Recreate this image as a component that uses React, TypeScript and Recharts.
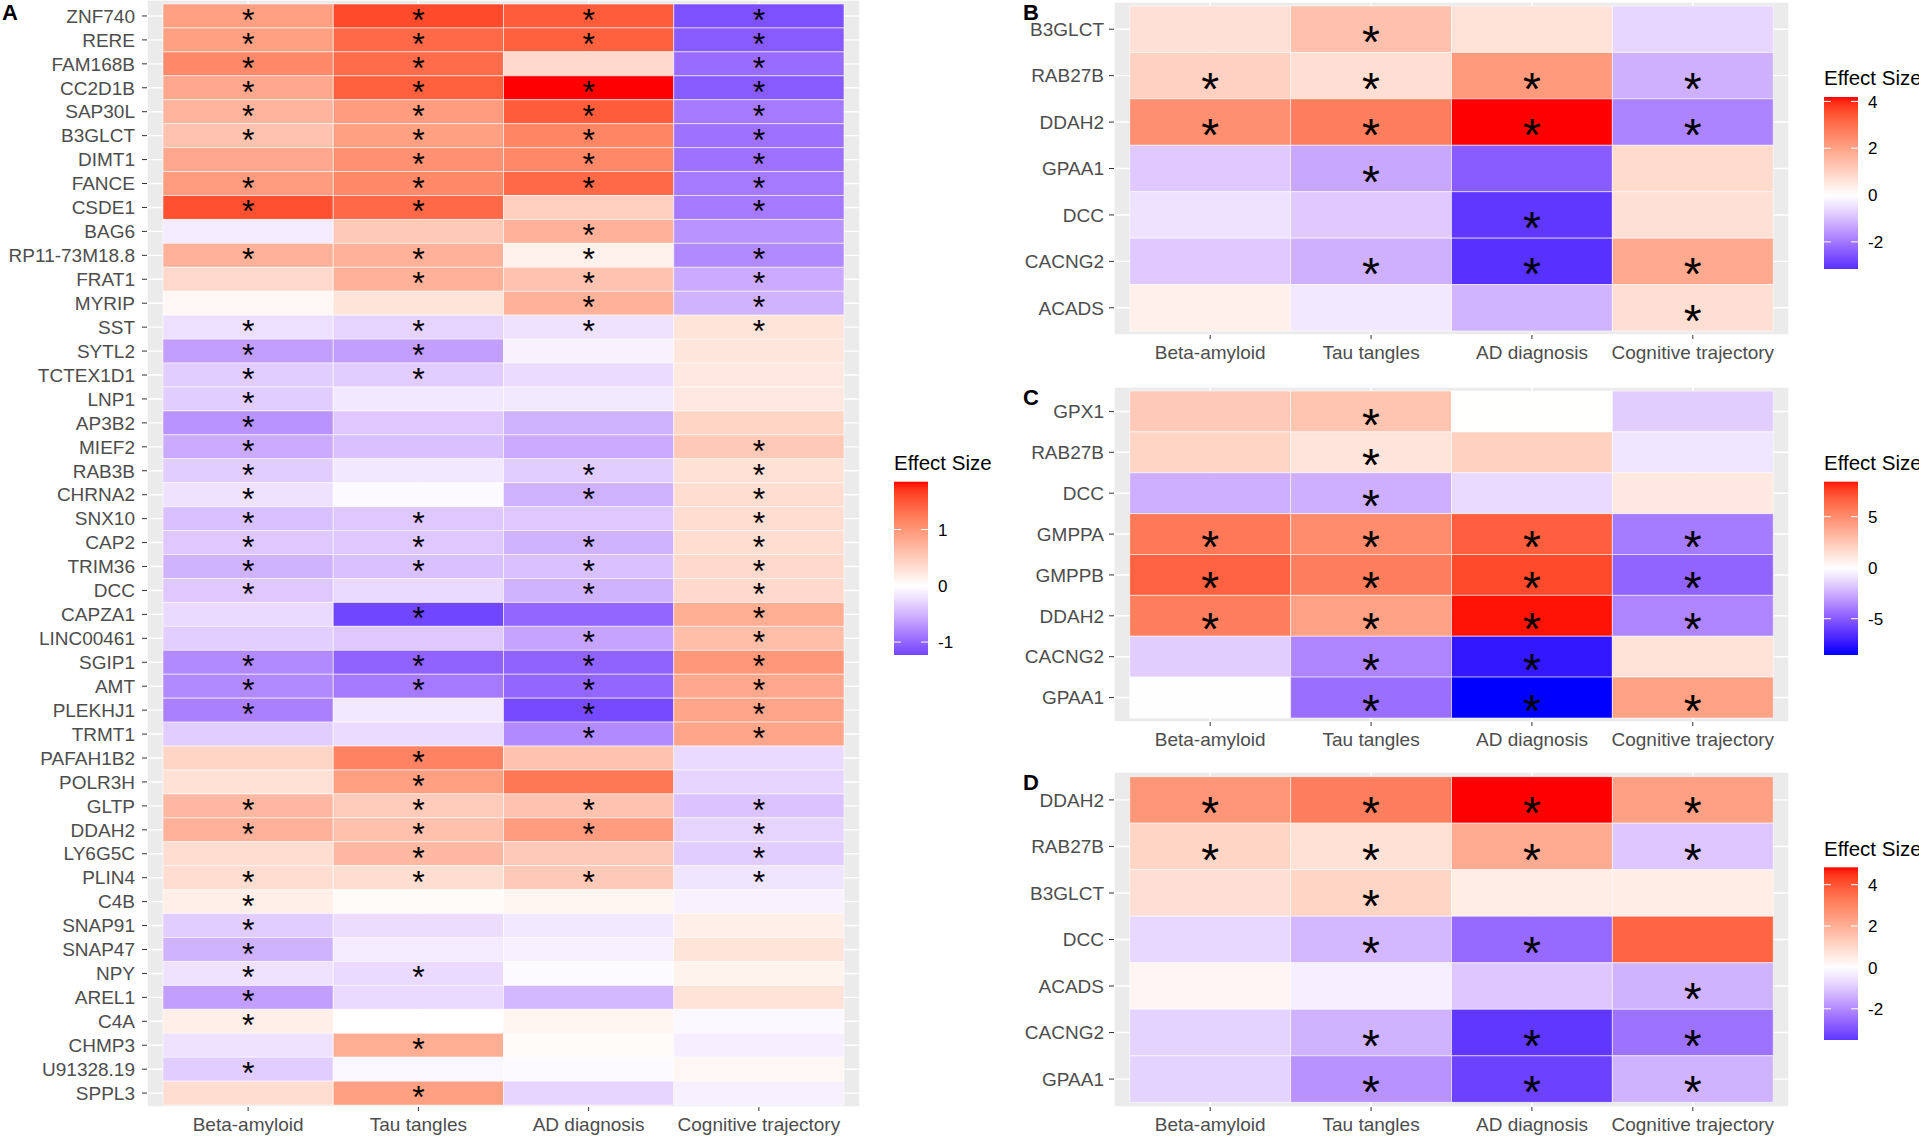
import React from "react";
import { CartesianGrid, ReferenceArea, Scatter, ScatterChart, XAxis, YAxis } from "recharts";

const TRAITS = ["Beta-amyloid", "Tau tangles", "AD diagnosis", "Cognitive trajectory"];

// Panel A
const A_GENES = [
  "ZNF740", "RERE", "FAM168B", "CC2D1B", "SAP30L", "B3GLCT", "DIMT1", "FANCE", "CSDE1", "BAG6",
  "RP11-73M18.8 ", "FRAT1", "MYRIP", "SST", "SYTL2", "TCTEX1D1", "LNP1", "AP3B2", "MIEF2", "RAB3B",
  "CHRNA2", "SNX10", "CAP2", "TRIM36", "DCC", "CAPZA1", "LINC00461", "SGIP1", "AMT", "PLEKHJ1",
  "TRMT1", "PAFAH1B2", "POLR3H", "GLTP", "DDAH2", "LY6G5C", "PLIN4", "C4B", "SNAP91", "SNAP47",
  "NPY", "AREL1", "C4A", "CHMP3", "U91328.19", "SPPL3",
];
const A_BETA = [
  0.91, 0.91, 1.11, 0.83, 0.71, 0.58, 0.83, 0.94, 1.55, -0.15,
  0.74, 0.37, 0.08, -0.23, -0.64, -0.35, -0.35, -0.71, -0.56, -0.35,
  -0.21, -0.43, -0.38, -0.51, -0.38, -0.26, -0.34, -0.77, -0.77, -0.83,
  -0.35, 0.41, 0.29, 0.67, 0.74, 0.33, 0.33, 0.16, -0.35, -0.51,
  -0.21, -0.64, 0.16, -0.21, -0.35, 0.33,
];
const A_TAU = [
  1.59, 1.38, 1.35, 1.44, 0.94, 0.91, 1.05, 1.11, 1.38, 0.52,
  0.74, 0.74, 0.26, -0.3, -0.64, -0.35, -0.17, -0.38, -0.43, -0.17,
  -0.03, -0.38, -0.38, -0.43, -0.26, -1.23, -0.38, -1.02, -0.87, -0.17,
  -0.25, 1.17, 0.91, 0.5, 0.6, 0.67, 0.32, 0.04, -0.24, -0.15,
  -0.26, -0.26, 0.0, 0.78, -0.06, 0.91,
];
const A_AD = [
  1.47, 1.44, 0.37, 1.85, 1.47, 1.15, 1.12, 1.38, 0.45, 0.74,
  0.14, 0.58, 0.74, -0.21, -0.1, -0.25, -0.16, -0.52, -0.56, -0.35,
  -0.52, -0.38, -0.51, -0.43, -0.51, -1.0, -0.61, -1.02, -1.0, -1.2,
  -0.77, 0.58, 1.26, 0.58, 0.94, 0.52, 0.52, 0.1, -0.17, -0.11,
  -0.03, -0.48, 0.1, 0.04, -0.03, -0.3,
];
const A_COG = [
  -1.15, -1.08, -0.96, -1.08, -0.87, -0.92, -0.92, -0.87, -0.87, -0.71,
  -0.77, -0.56, -0.51, 0.26, 0.24, 0.22, 0.22, 0.41, 0.52, 0.29,
  0.33, 0.33, 0.33, 0.37, 0.37, 0.78, 0.63, 0.99, 0.83, 0.86,
  0.86, -0.26, -0.3, -0.41, -0.3, -0.35, -0.19, -0.1, 0.16, 0.26,
  0.12, 0.28, -0.05, -0.12, 0.08, -0.11,
];
const A_SIG = [
  "1111", "1111", "1101", "1111", "1111", "1111", "0111", "1111", "1101", "0010",
  "1111", "0111", "0011", "1111", "1100", "1100", "1000", "1000", "1001", "1011",
  "1011", "1101", "1111", "1111", "1011", "0101", "0011", "1111", "1111", "1011",
  "0011", "0100", "0100", "1111", "1111", "0101", "1111", "1000", "1000", "1000",
  "1100", "1000", "1000", "0100", "1000", "0100",
];
const A_TICKS = [-1, 0, 1];

// Panel B
const B_GENES = ["B3GLCT", "RAB27B", "DDAH2", "GPAA1", "DCC", "CACNG2", "ACADS"];
const B_BETA = [0.67, 1.0, 2.39, -0.84, -0.47, -0.84, 0.32];
const B_TAU = [1.35, 0.71, 2.73, -1.33, -0.84, -1.2, -0.38];
const B_AD = [0.63, 2.17, 4.19, -2.43, -3.05, -3.16, -1.15];
const B_COG = [-0.66, -1.2, -1.82, 0.8, 0.67, 1.87, 0.71];
const B_SIG = ["0100", "1111", "1111", "0100", "0010", "0111", "0001"];
const B_TICKS = [-2, 0, 2, 4];

// Panel C
const C_GENES = ["GPX1", "RAB27B", "DCC", "GMPPA", "GMPPB", "DDAH2", "CACNG2", "GPAA1"];
const C_BETA = [2.4, 1.9, -2.5, 5.8, 6.6, 5.6, -1.6, -0.05];
const C_TAU = [2.6, 1.2, -2.5, 5.0, 5.6, 4.15, -3.7, -4.4];
const C_AD = [0.02, 2.05, -1.2, 6.7, 7.35, 8.43, -7.45, -8.56];
const C_COG = [-1.6, -0.85, 1.0, -4.0, -4.7, -3.7, 1.3, 4.15];
const C_SIG = ["0100", "0100", "0100", "1111", "1111", "1111", "0110", "0111"];
const C_TICKS = [-5, 0, 5];

// Panel D
const D_GENES = ["DDAH2", "RAB27B", "B3GLCT", "DCC", "ACADS", "CACNG2", "GPAA1"];
const D_BETA = [2.6, 1.07, 0.82, -0.73, 0.22, -0.83, -0.8];
const D_TAU = [3.15, 0.77, 1.07, -1.27, -0.32, -1.34, -1.88];
const D_AD = [4.84, 2.1, 0.47, -2.56, -1.0, -3.51, -3.3];
const D_COG = [2.37, -1.0, 0.47, 3.7, -1.34, -2.42, -1.34];
const D_SIG = ["1111", "1111", "0100", "0110", "0001", "0111", "0111"];
const D_TICKS = [-2, 0, 2, 4];

const FONT = '"Liberation Sans", Arial, Helvetica, sans-serif';
const AXIS_TEXT = "#4d4d4d";

// --- colour: blue / white / red diverging scale, interpolated in Lab
const toLin = (c: number) => {
  const s = c / 255;
  return s <= 0.04045 ? s / 12.92 : Math.pow((s + 0.055) / 1.055, 2.4);
};
const fromLin = (v: number) => {
  const c = Math.max(0, Math.min(1, v));
  const s = c <= 0.0031308 ? 12.92 * c : 1.055 * Math.pow(c, 1 / 2.4) - 0.055;
  return Math.round(Math.max(0, Math.min(1, s)) * 255);
};
const WX = 0.95047, WZ = 1.08883;
function rgbToLab([r, g, b]: number[]) {
  const R = toLin(r), G = toLin(g), B = toLin(b);
  const X = (0.4124 * R + 0.3576 * G + 0.1805 * B) / WX;
  const Y = 0.2126 * R + 0.7152 * G + 0.0722 * B;
  const Z = (0.0193 * R + 0.1192 * G + 0.9505 * B) / WZ;
  const f = (t: number) => (t > 0.008856 ? Math.cbrt(t) : 7.787 * t + 16 / 116);
  const fx = f(X), fy = f(Y), fz = f(Z);
  return [116 * fy - 16, 500 * (fx - fy), 200 * (fy - fz)];
}
function labToHex([L, a, b]: number[]) {
  const fy = (L + 16) / 116;
  const fx = fy + a / 500;
  const fz = fy - b / 200;
  const inv = (t: number) => (t * t * t > 0.008856 ? t * t * t : (t - 16 / 116) / 7.787);
  const X = inv(fx) * WX, Y = inv(fy), Z = inv(fz) * WZ;
  const R = 3.2406 * X - 1.5372 * Y - 0.4986 * Z;
  const G = -0.9689 * X + 1.8758 * Y + 0.0415 * Z;
  const B = 0.0557 * X - 0.204 * Y + 1.057 * Z;
  const h = (n: number) => n.toString(16).padStart(2, "0");
  return "#" + h(fromLin(R)) + h(fromLin(G)) + h(fromLin(B));
}
const LAB_LOW = rgbToLab([0, 0, 255]);
const LAB_MID = rgbToLab([255, 255, 255]);
const LAB_HIGH = rgbToLab([255, 0, 0]);
function fillFor(v: number, maxAbs: number) {
  const t = Math.max(-1, Math.min(1, v / maxAbs));
  const end = t >= 0 ? LAB_HIGH : LAB_LOW;
  let k = Math.abs(t);
  // the violet side of the reference runs a little deeper than plain Lab
  if (t < 0) k = k + 0.9 * k * k * (1 - k);
  return labToHex(LAB_MID.map((m, i) => m + (end[i] - m) * k));
}

type PanelProps = {
  genes: string[];
  cols: number[][];
  sig: string[];
  left: number;
  top: number;
  width: number;
  height: number;
  yAxisWidth: number;
  xAxisHeight: number;
  xPad: number;
  yPad: [number, number];
  starSize: number;
  starDy: number;
  starRise: number;
  yTickMargin: number;
};

function Heatmap(p: PanelProps) {
  const all = p.cols.flat();
  const maxAbs = Math.max(...all.map(Math.abs));
  const cells = p.genes.flatMap((g, r) =>
    TRAITS.map((t, c) => ({ x: c, y: r, v: p.cols[c][r], star: p.sig[r][c] === "1" }))
  );
  const stars = cells.filter((c) => c.star);
  return (
    <div style={{ position: "absolute", left: p.left, top: p.top }}>
      <ScatterChart width={p.width} height={p.height} margin={{ top: 0, right: 2, bottom: 0, left: 0 }}>
        <CartesianGrid fill="#ebebeb" fillOpacity={1} stroke="#ffffff" strokeWidth={1.4} />
        <XAxis
          type="number"
          dataKey="x"
          domain={[-0.5 - p.xPad, 3.5 + p.xPad]}
          allowDataOverflow
          ticks={[0, 1, 2, 3]}
          interval={0}
          tickFormatter={(i: number) => TRAITS[i]}
          height={p.xAxisHeight}
          axisLine={false}
          tickLine={{ stroke: "#333333" }}
          tickSize={4}
          tickMargin={6.5}
          tick={{ fill: AXIS_TEXT, fontSize: 19 }}
        />
        <YAxis
          type="number"
          dataKey="y"
          reversed
          domain={[-0.5 - p.yPad[0], p.genes.length - 0.5 + p.yPad[1]]}
          allowDataOverflow
          ticks={p.genes.map((_, i) => i)}
          interval={0}
          tickFormatter={(i: number) => p.genes[i]}
          width={p.yAxisWidth}
          axisLine={false}
          tickLine={{ stroke: "#333333" }}
          tickSize={5}
          tickMargin={p.yTickMargin}
          tick={{ fill: AXIS_TEXT, fontSize: 19 }}
        />
        {cells.map((c) => (
          <ReferenceArea
            key={`${c.x}-${c.y}`}
            x1={c.x - 0.5}
            x2={c.x + 0.5}
            y1={c.y - 0.5}
            y2={c.y + 0.5}
            fill={fillFor(c.v, maxAbs)}
            fillOpacity={1}
            stroke="#ffffff"
            strokeOpacity={0.55}
            strokeWidth={1}
          />
        ))}
        <Scatter
          data={stars}
          isAnimationActive={false}
          shape={(s: any) => (
            <text
              x={s.cx}
              y={s.cy + p.starDy + p.starRise * p.starSize}
              textAnchor="middle"
              fontSize={p.starSize}
              fontFamily={FONT}
              fill="#000000"
            >
              *
            </text>
          )}
        />
      </ScatterChart>
    </div>
  );
}

type LegendProps = {
  cols: number[][];
  ticks: number[];
  x: number;
  titleY: number;
  barY: number;
  barH: number;
  id: string;
};

function ColourBar({ cols, ticks, x, titleY, barY, barH, id }: LegendProps) {
  const all = cols.flat();
  const lo = Math.min(...all);
  const hi = Math.max(...all);
  const maxAbs = Math.max(Math.abs(lo), Math.abs(hi));
  const barW = 34;
  const yOf = (v: number) => barY + barH - ((v - lo) / (hi - lo)) * barH;
  const stops = Array.from({ length: 41 }, (_, i) => lo + ((hi - lo) * i) / 40);
  return (
    <svg
      style={{ position: "absolute", left: 0, top: 0, pointerEvents: "none" }}
      width={1919}
      height={1136}
    >
      <defs>
        <linearGradient id={id} x1="0" y1="1" x2="0" y2="0">
          {stops.map((v, i) => (
            <stop key={i} offset={i / 40} stopColor={fillFor(v, maxAbs)} />
          ))}
        </linearGradient>
      </defs>
      <text x={x} y={titleY} fontSize={20.5} fontFamily={FONT} fill="#000">
        Effect Size
      </text>
      <rect x={x} y={barY} width={barW} height={barH} fill={`url(#${id})`} />
      {ticks.map((t) => (
        <g key={t}>
          <line x1={x} x2={x + 7} y1={yOf(t)} y2={yOf(t)} stroke="#ffffff" strokeWidth={1} />
          <line x1={x + barW - 7} x2={x + barW} y1={yOf(t)} y2={yOf(t)} stroke="#ffffff" strokeWidth={1} />
          <text x={x + barW + 10} y={yOf(t)} dy="0.36em" fontSize={17} fontFamily={FONT} fill="#000">
            {t}
          </text>
        </g>
      ))}
    </svg>
  );
}

export default function App() {
  const aCols = [A_BETA, A_TAU, A_AD, A_COG];
  const bCols = [B_BETA, B_TAU, B_AD, B_COG];
  const cCols = [C_BETA, C_TAU, C_AD, C_COG];
  const dCols = [D_BETA, D_TAU, D_AD, D_COG];
  const right = {
    left: 1015,
    width: 776,
    yAxisWidth: 99,
    xPad: 0.098,
    starSize: 46,
    starDy: 7,
    starRise: 0.48,
    yTickMargin: 5,
  };
  return (
    <div
      style={{
        position: "absolute",
        left: 0,
        top: 0,
        width: 1919,
        height: 1136,
        background: "#ffffff",
        fontFamily: FONT,
        overflow: "hidden",
      }}
    >
      <Heatmap
        genes={A_GENES}
        cols={aCols}
        sig={A_SIG}
        left={0}
        top={0}
        width={862}
        height={1136}
        yAxisWidth={147}
        xAxisHeight={29}
        xPad={0.094}
        yPad={[0.167, 0.08]}
        starSize={32}
        starDy={0}
        starRise={0.47}
        yTickMargin={7}
      />
      <Heatmap genes={B_GENES} cols={bCols} sig={B_SIG} top={2} height={368} xAxisHeight={35} yPad={[0.086, 0.086]} {...right} />
      <Heatmap genes={C_GENES} cols={cCols} sig={C_SIG} top={387} height={370} xAxisHeight={35} yPad={[0.098, 0.098]} {...right} />
      <Heatmap genes={D_GENES} cols={dCols} sig={D_SIG} top={772} height={364} xAxisHeight={29} yPad={[0.1, 0.1]} {...right} />
      <ColourBar id="gA" cols={aCols} ticks={A_TICKS} x={894} titleY={470} barY={481.7} barH={173.3} />
      <ColourBar id="gB" cols={bCols} ticks={B_TICKS} x={1824} titleY={85} barY={97} barH={172} />
      <ColourBar id="gC" cols={cCols} ticks={C_TICKS} x={1824} titleY={470} barY={481.7} barH={173.3} />
      <ColourBar id="gD" cols={dCols} ticks={D_TICKS} x={1824} titleY={855.7} barY={867.3} barH={172.7} />
      <svg style={{ position: "absolute", left: 0, top: 0, pointerEvents: "none" }} width={1919} height={1136}>
        <text x={2} y={20} fontSize={22} fontWeight="bold" fontFamily={FONT}>A</text>
        <text x={1023} y={20} fontSize={22} fontWeight="bold" fontFamily={FONT}>B</text>
        <text x={1023} y={405} fontSize={22} fontWeight="bold" fontFamily={FONT}>C</text>
        <text x={1023} y={790} fontSize={22} fontWeight="bold" fontFamily={FONT}>D</text>
      </svg>
    </div>
  );
}
